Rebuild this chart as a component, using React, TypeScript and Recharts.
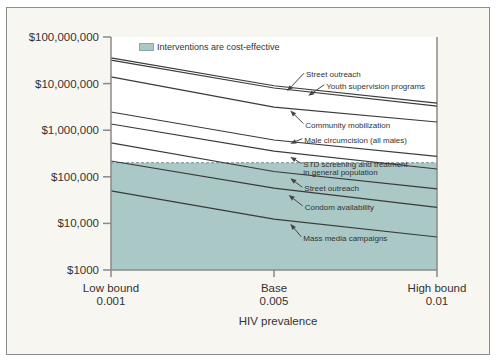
import { ComposedChart, Line, XAxis, YAxis, ReferenceArea, ReferenceLine, ReferenceDot } from 'recharts';

const categories = ['Low bound', 'Base', 'High bound'];
const prevalence = ['0.001', '0.005', '0.01'];

const streetOutreachHigh = [35500000, 9000000, 3800000];
const youthSupervision = [32000000, 8050000, 3300000];
const communityMobilization = [13900000, 3140000, 1500000];
const maleCircumcision = [2460000, 616000, 274000];
const stdScreening = [1360000, 356000, 147000];
const streetOutreachLow = [534000, 130000, 55000];
const condomAvailability = [218000, 57000, 22000];
const massMedia = [50000, 12400, 5100];

const costEffectiveThreshold = 200000;

const yTicks = [1000, 10000, 100000, 1000000, 10000000, 100000000];
const yTickLabels = ['$1000', '$10,000', '$100,000', '$1,000,000', '$10,000,000', '$100,000,000'];

const series = [
  { key: 'streetHigh', values: streetOutreachHigh },
  { key: 'youth', values: youthSupervision },
  { key: 'community', values: communityMobilization },
  { key: 'male', values: maleCircumcision },
  { key: 'std', values: stdScreening },
  { key: 'streetLow', values: streetOutreachLow },
  { key: 'condom', values: condomAvailability },
  { key: 'mass', values: massMedia },
];

const annotations = [
  { key: 'streetHigh', pos: 1.08, tipDy: 4, dx: 19, dy: -16, lines: ['Street outreach'] },
  { key: 'youth', pos: 1.21, tipDy: 4, dx: 18, dy: -9, lines: ['Youth supervision programs'] },
  { key: 'community', pos: 1.1, tipDy: 2, dx: 15, dy: 15, lines: ['Community mobilization'] },
  { key: 'male', pos: 1.1, tipDy: 2, dx: 14, dy: -3, lines: ['Male circumcision (all males)'] },
  { key: 'std', pos: 1.1, tipDy: 4, dx: 13, dy: 8.5, lines: ['STD screening and treatment', 'in general population'] },
  { key: 'streetLow', pos: 1.1, tipDy: 5, dx: 14, dy: 11, lines: ['Street outreach'] },
  { key: 'condom', pos: 1.09, tipDy: 5, dx: 16, dy: 13, lines: ['Condom availability'] },
  { key: 'mass', pos: 1.1, tipDy: 3, dx: 13, dy: 15, lines: ['Mass media campaigns'] },
];

const data = categories.map((c, i) => {
  const row: any = { x: i, label: c };
  series.forEach((s) => (row[s.key] = s.values[i]));
  return row;
});

const FONT = '"Liberation Sans", Arial, Helvetica, sans-serif';
const TEAL = '#a9c8c6';
const INK = '#3a3a3a';

// value on a line between two categories, in log space
function valueAt(values: number[], pos: number) {
  const i = Math.min(Math.floor(pos), values.length - 2);
  const t = pos - i;
  return values[i] * Math.pow(values[i + 1] / values[i], t);
}

function XTick({ x, y, payload }: any) {
  const i = payload.value;
  return (
    <text x={x} y={y} textAnchor="middle" fill="#333" fontSize={11.5} fontFamily={FONT}>
      <tspan x={x} dy={13}>{categories[i]}</tspan>
      <tspan x={x} dy={13}>{prevalence[i]}</tspan>
    </text>
  );
}

function arrowShape(a: typeof annotations[number]) {
  return (props: any) => {
    const tx = props.cx;
    const ty = props.cy + a.tipDy;
    const textX = tx + a.dx;
    const textY = ty + a.dy;
    const sx = textX - 2;
    const sy = textY - 2;
    const len = Math.hypot(tx - sx, ty - sy) || 1;
    const ux = (tx - sx) / len;
    const uy = (ty - sy) / len;
    const L = 6;
    const W = 2.3;
    const bx = tx - ux * L;
    const by = ty - uy * L;
    return (
      <g>
        <line x1={sx} y1={sy} x2={bx} y2={by} stroke="#444" strokeWidth={1} />
        <polygon
          points={`${tx},${ty} ${bx - uy * W},${by + ux * W} ${bx + uy * W},${by - ux * W}`}
          fill="#444"
        />
        <text x={textX} y={textY} fontSize={8} fontFamily={FONT} fill="#333" dominantBaseline="middle">
          {a.lines.map((l, k) => (
            <tspan key={k} x={textX} dy={k === 0 ? 0 : 8}>
              {l}
            </tspan>
          ))}
        </text>
      </g>
    );
  };
}

export default function App() {
  return (
    <div style={{ position: 'absolute', left: 0, top: 0, width: 500, height: 362, background: '#fff', fontFamily: FONT }}>
      <div
        style={{
          position: 'absolute',
          left: 6,
          top: 7,
          width: 484,
          height: 348,
          boxSizing: 'border-box',
          border: '1.5px solid #8c8c8c',
          background: '#f8f6f0',
        }}
      />
      <div style={{ position: 'absolute', left: 0, top: 0 }}>
        <ComposedChart width={500} height={362} data={data} margin={{ top: 37, right: 63, bottom: 62, left: 11 }}>
          <ReferenceArea y1={1000} y2={100000000} fill="#fff" fillOpacity={1} stroke="none" />
          <ReferenceArea y1={1000} y2={costEffectiveThreshold} fill={TEAL} fillOpacity={1} stroke="none" />
          <ReferenceLine y={costEffectiveThreshold} stroke="#6f8f8f" strokeDasharray="3 2" strokeWidth={1.2} />
          <ReferenceLine x={2} stroke="#8a8a8a" strokeWidth={1.5} />
          <XAxis
            dataKey="x"
            type="number"
            domain={[0, 2]}
            ticks={[0, 1, 2]}
            height={30}
            tickSize={7}
            tick={<XTick />}
            stroke="#8a8a8a"
            strokeWidth={1.5}
            label={{ value: 'HIV prevalence', position: 'bottom', offset: 17, dx: 4, fill: '#333', fontSize: 11.5, fontFamily: FONT }}
          />
          <YAxis
            type="number"
            scale="log"
            domain={[1000, 100000000]}
            ticks={yTicks}
            allowDataOverflow
            width={100}
            tickSize={8}
            tickMargin={4}
            stroke="#8a8a8a"
            strokeWidth={1.5}
            tick={{ fill: '#333', fontSize: 11.5, fontFamily: FONT }}
            tickFormatter={(v: number) => yTickLabels[yTicks.indexOf(v)]}
          />
          {series.map((s) => (
            <Line
              key={s.key}
              dataKey={s.key}
              type="linear"
              stroke={INK}
              strokeWidth={1.2}
              dot={false}
              activeDot={false}
              isAnimationActive={false}
            />
          ))}
          {annotations.map((a) => {
            const s = series.find((q) => q.key === a.key)!;
            return (
              <ReferenceDot
                key={'ann-' + a.key}
                x={a.pos}
                y={valueAt(s.values, a.pos)}
                r={0}
                shape={arrowShape(a)}
              />
            );
          })}
        </ComposedChart>
      </div>
      <div style={{ position: 'absolute', left: 139, top: 42, display: 'flex', alignItems: 'center', fontSize: 9, color: '#333' }}>
        <div style={{ width: 15, height: 8, background: TEAL, border: '0.5px solid #8aa', marginRight: 3, boxSizing: 'border-box' }} />
        <span>Interventions are cost-effective</span>
      </div>
    </div>
  );
}
